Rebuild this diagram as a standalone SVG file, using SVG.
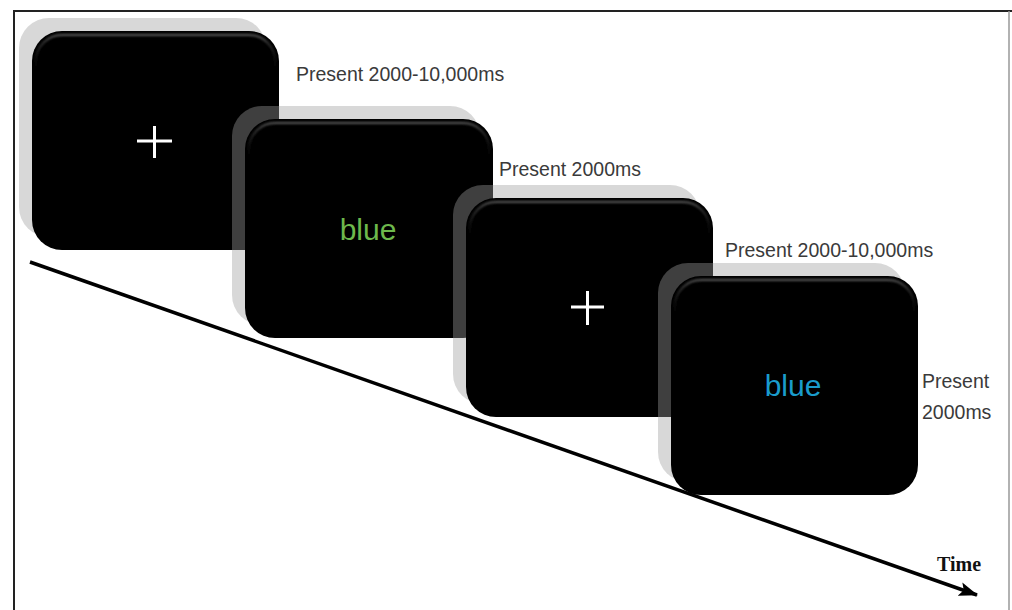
<svg xmlns="http://www.w3.org/2000/svg" width="1012" height="610" viewBox="0 0 1012 610">
  <style>
    .scr { fill: #000; }
    .shd { fill: #9e9e9e; fill-opacity: 0.4; }
    .hl { fill: none; stroke: url(#hlg); stroke-width: 2; filter: url(#blur1); }
    .lbl { font-family: "Liberation Sans", Arial, sans-serif; font-size: 19.5px; fill: #3a3a3a; }
    .word { font-family: "Liberation Sans", Arial, sans-serif; font-size: 30px; text-anchor: middle; }
    .plus { stroke: #fff; stroke-width: 3; }
    .frame { stroke: #222; stroke-width: 2; fill: none; }
  </style>
  <defs>
    <linearGradient id="hlg" x1="0" y1="0" x2="0" y2="1">
      <stop offset="0" stop-color="#5a5a5a" stop-opacity="1"/>
      <stop offset="0.4" stop-color="#444" stop-opacity="0.5"/>
      <stop offset="1" stop-color="#222" stop-opacity="0"/>
    </linearGradient>
    <filter id="blur1" x="-10%" y="-50%" width="120%" height="200%">
      <feGaussianBlur stdDeviation="0.9"/>
    </filter>
    <marker id="arrow" markerUnits="userSpaceOnUse" markerWidth="20" markerHeight="16" viewBox="0 0 20 16" refX="18" refY="8" orient="auto">
      <path d="M0,1 L19,8 L0,15 L4,8 z" fill="#000"/>
    </marker>
  </defs>

  <rect x="0" y="0" width="1012" height="610" fill="#fff"/>
  <g id="frame">
    <line class="frame" x1="13" y1="11" x2="1012" y2="11"/>
    <line class="frame" x1="14" y1="10" x2="14" y2="610"/>
    <line x1="1009" y1="11" x2="1009" y2="610" stroke="#999" stroke-width="1.5"/>
  </g>

  <g id="connectors">
    <line x1="30" y1="262" x2="977" y2="595" stroke="#000" stroke-width="3.5" marker-end="url(#arrow)"/>
  </g>

  <g id="screen1">
    <rect class="shd" x="19" y="18" width="247" height="219" rx="30"/>
    <rect class="scr" x="32" y="31" width="247" height="219" rx="30"/>
    <path class="hl" d="M36,70 L36,61 A26,26 0 0 1 62,35 L249,35 A26,26 0 0 1 275,61 L275,70"/>
    <line class="plus" x1="137" y1="141" x2="172" y2="141"/>
    <line class="plus" x1="154.5" y1="126" x2="154.5" y2="158"/>
  </g>

  <g id="screen2">
    <rect class="shd" x="232" y="106" width="248" height="219" rx="30"/>
    <rect class="scr" x="245" y="119" width="248" height="219" rx="30"/>
    <path class="hl" d="M249,158 L249,149 A26,26 0 0 1 275,123 L463,123 A26,26 0 0 1 489,149 L489,158"/>
    <text class="word" x="368" y="240" fill="#6db84c">blue</text>
  </g>

  <g id="screen3">
    <rect class="shd" x="453" y="185" width="247" height="219" rx="30"/>
    <rect class="scr" x="466" y="198" width="247" height="219" rx="30"/>
    <path class="hl" d="M470,237 L470,228 A26,26 0 0 1 496,202 L683,202 A26,26 0 0 1 709,228 L709,237"/>
    <line class="plus" x1="571" y1="307" x2="604" y2="307"/>
    <line class="plus" x1="587.5" y1="291" x2="587.5" y2="325"/>
  </g>

  <g id="screen4">
    <rect class="shd" x="658" y="263" width="247" height="219" rx="30"/>
    <rect class="scr" x="671" y="276" width="247" height="219" rx="30"/>
    <path class="hl" d="M675,315 L675,306 A26,26 0 0 1 701,280 L888,280 A26,26 0 0 1 914,306 L914,315"/>
    <text class="word" x="793" y="396" fill="#1a9ccc">blue</text>
  </g>

  <g id="labels">
    <text class="lbl" x="296" y="81">Present 2000-10,000ms</text>
    <text class="lbl" x="499" y="176">Present 2000ms</text>
    <text class="lbl" x="725" y="257">Present 2000-10,000ms</text>
    <text class="lbl" x="922" y="388">Present</text>
    <text class="lbl" x="922" y="419">2000ms</text>
    <text x="937" y="571" font-family="Liberation Serif, 'Times New Roman', serif" font-size="20" font-weight="bold" fill="#111">Time</text>
  </g>
</svg>
